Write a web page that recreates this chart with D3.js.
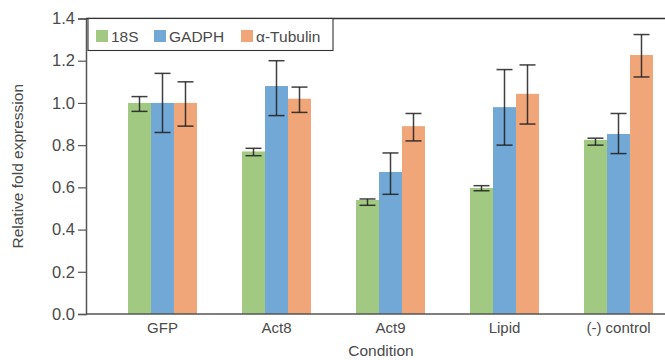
<!DOCTYPE html>
<html>
<head>
<meta charset="utf-8">
<script src="https://cdn.jsdelivr.net/npm/d3@7"></script>
<style>
  body { margin: 0; background: #fff; }
  svg text { font-family: "Liberation Sans", Arial, sans-serif; fill: #4a4a4a; }
</style>
</head>
<body>
<div id="chart"></div>
<script>
const conditions = ['GFP', 'Act8', 'Act9', 'Lipid', '(-) control'];
const seriesNames = ['18S', 'GADPH', 'α-Tubulin'];
const seriesColors = ['#a1c982', '#72a8d5', '#f0a679'];

const s18S = [1.0, 0.77, 0.54, 0.597, 0.825];
const s18SLow = [0.96, 0.75, 0.515, 0.584, 0.80];
const s18SHigh = [1.03, 0.785, 0.545, 0.608, 0.833];

const gadph = [1.0, 1.08, 0.673, 0.98, 0.853];
const gadphLow = [0.86, 0.94, 0.567, 0.80, 0.76];
const gadphHigh = [1.14, 1.2, 0.763, 1.158, 0.95];

const tubulin = [1.0, 1.02, 0.89, 1.043, 1.227];
const tubulinLow = [0.89, 0.955, 0.82, 0.90, 1.123];
const tubulinHigh = [1.10, 1.075, 0.95, 1.18, 1.324];

const yTicks = [0, 0.2, 0.4, 0.6, 0.8, 1.0, 1.2, 1.4];

const series = [
  { values: s18S, low: s18SLow, high: s18SHigh },
  { values: gadph, low: gadphLow, high: gadphHigh },
  { values: tubulin, low: tubulinLow, high: tubulinHigh }
];

const width = 665, height = 360;
const plotLeft = 86, plotRight = 665, plotTop = 18.5, plotBottom = 314;

const svg = d3.select('#chart').append('svg')
  .attr('width', width)
  .attr('height', height);

// Scales
const x = d3.scaleBand().domain(conditions).range([105.5, 675.5]).padding(0);
const xs = d3.scaleBand().domain(d3.range(seriesNames.length)).range([22.5, 91.5]).padding(0);
const y = d3.scaleLinear().domain([0, 1.4]).range([plotBottom, plotTop]);

// Bars
const flat = [];
series.forEach((s, si) => {
  s.values.forEach((v, ci) => {
    flat.push({ cat: conditions[ci], si: si, v: v, lo: s.low[ci], hi: s.high[ci] });
  });
});

svg.append('g').selectAll('rect')
  .data(flat)
  .enter()
  .append('rect')
  .attr('x', d => x(d.cat) + xs(d.si))
  .attr('width', xs.bandwidth())
  .attr('y', d => y(d.v))
  .attr('height', d => y(0) - y(d.v))
  .attr('fill', d => seriesColors[d.si]);

// Error bars
const err = svg.append('g')
  .attr('stroke', '#1e1e1e')
  .attr('stroke-opacity', 0.85)
  .attr('stroke-width', 1.5);
const cap = 8;
flat.forEach(d => {
  const cx = x(d.cat) + xs(d.si) + xs.bandwidth() / 2;
  err.append('line').attr('x1', cx).attr('x2', cx).attr('y1', y(d.hi)).attr('y2', y(d.lo));
  err.append('line').attr('x1', cx - cap).attr('x2', cx + cap).attr('y1', y(d.hi)).attr('y2', y(d.hi));
  err.append('line').attr('x1', cx - cap).attr('x2', cx + cap).attr('y1', y(d.lo)).attr('y2', y(d.lo));
});

// Y axis
const yAxis = svg.append('g')
  .attr('transform', 'translate(' + plotLeft + ',0)')
  .call(d3.axisLeft(y).tickValues(yTicks).tickFormat(d3.format('.1f')).tickSize(8).tickPadding(3));
yAxis.select('.domain').attr('stroke', '#555').attr('stroke-width', 1.5);
yAxis.selectAll('.tick line').attr('stroke', '#555').attr('stroke-width', 1.2);
yAxis.selectAll('.tick text').style('font-size', '16.5px').attr('fill', '#4a4a4a');

// X axis
const xAxis = svg.append('g')
  .attr('transform', 'translate(0,' + plotBottom + ')')
  .call(d3.axisBottom(x).tickSize(0).tickPadding(8));
xAxis.select('.domain').remove();
xAxis.selectAll('.tick text').style('font-size', '15px').attr('fill', '#4a4a4a');
svg.append('line')
  .attr('x1', plotLeft).attr('x2', plotRight)
  .attr('y1', plotBottom).attr('y2', plotBottom)
  .attr('stroke', '#555').attr('stroke-width', 1.5);

// Top frame line
svg.append('line')
  .attr('x1', plotLeft).attr('x2', plotRight)
  .attr('y1', plotTop).attr('y2', plotTop)
  .attr('stroke', '#333').attr('stroke-width', 1.3);

// Axis titles
svg.append('text')
  .attr('x', 381).attr('y', 356)
  .attr('text-anchor', 'middle')
  .style('font-size', '15.5px')
  .text('Condition');

svg.append('text')
  .attr('transform', 'translate(23,' + (plotTop + plotBottom) / 2 + ') rotate(-90)')
  .attr('text-anchor', 'middle')
  .style('font-size', '15.5px')
  .text('Relative fold expression');

// Legend
const legend = svg.append('g');
legend.append('rect')
  .attr('x', 88).attr('y', plotTop)
  .attr('width', 245).attr('height', 32)
  .attr('fill', '#fff')
  .attr('stroke', '#333').attr('stroke-width', 1.1);
const legendX = [96, 154, 241];
seriesNames.forEach((name, i) => {
  legend.append('rect')
    .attr('x', legendX[i]).attr('y', 30)
    .attr('width', 12).attr('height', 12)
    .attr('fill', seriesColors[i]);
  legend.append('text')
    .attr('x', legendX[i] + 15).attr('y', 41.5)
    .style('font-size', '15.5px')
    .text(name);
});
</script>
</body>
</html>
